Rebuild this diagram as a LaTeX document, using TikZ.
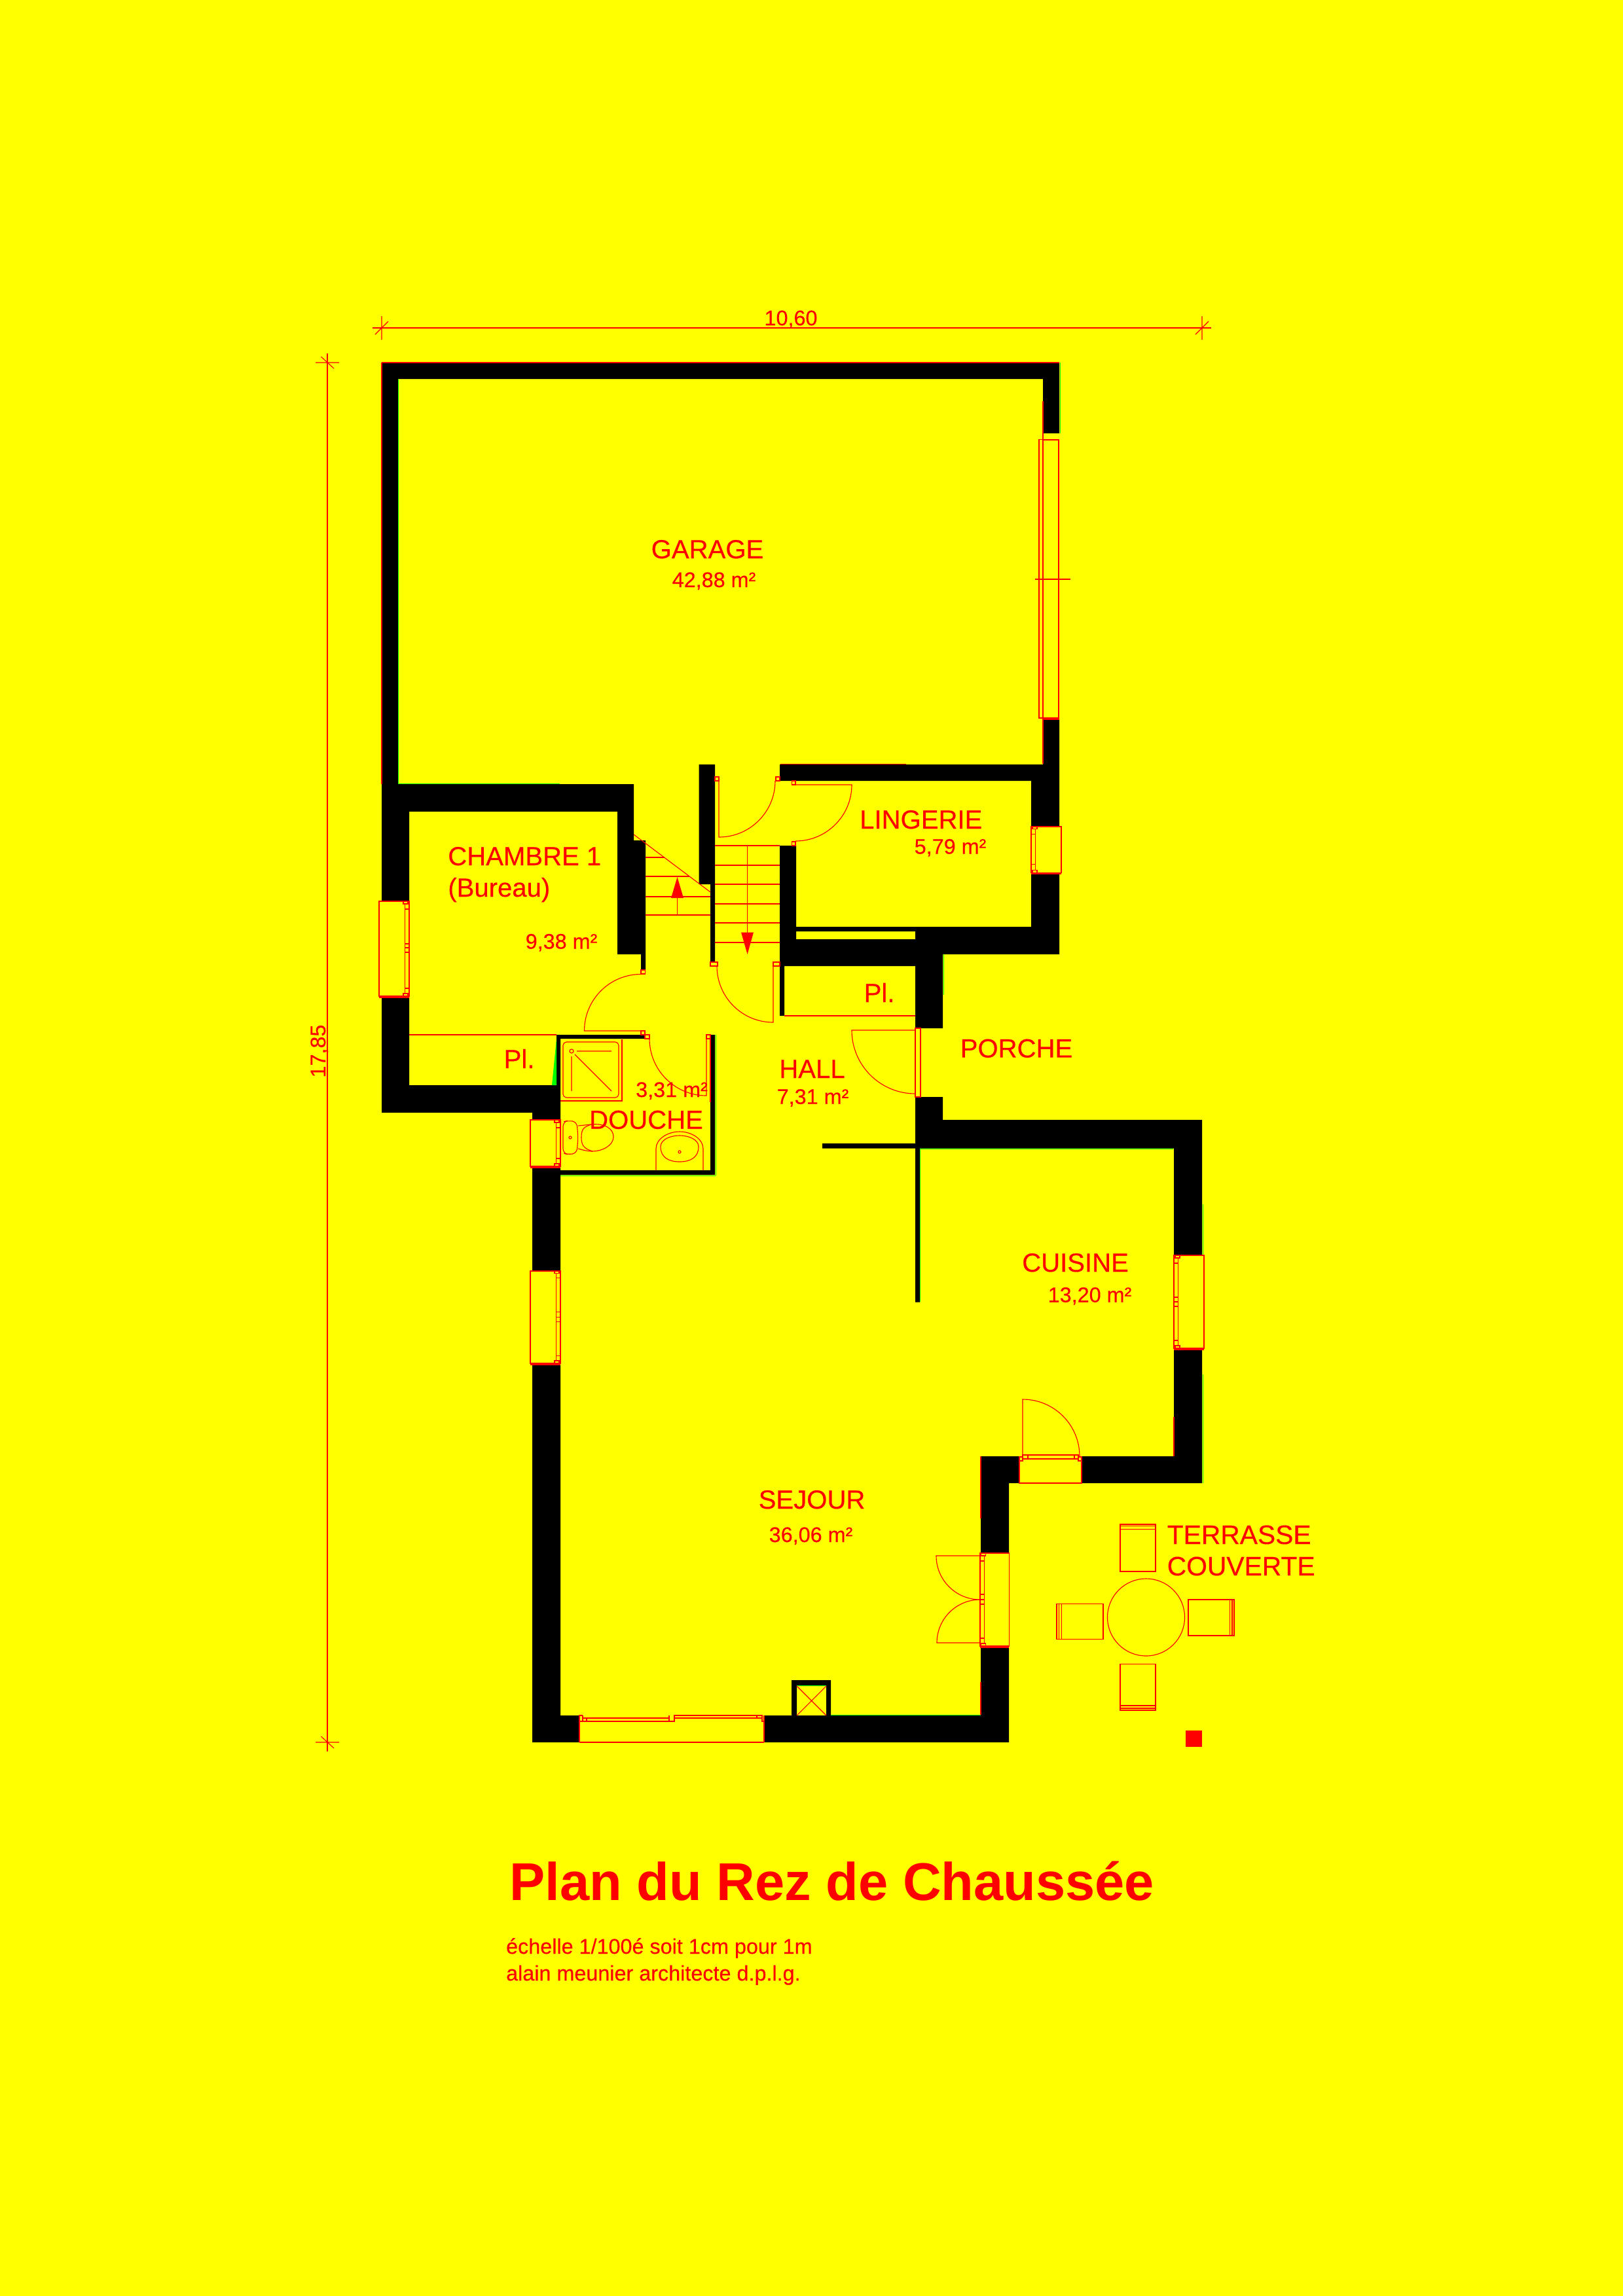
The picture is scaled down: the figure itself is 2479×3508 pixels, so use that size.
\documentclass[tikz,border=0pt]{standalone}
\usepackage{fontspec}
\setmainfont{Liberation Sans}[UprightFeatures={FakeBold=0.3}]
\usetikzlibrary{calc}
\definecolor{planyellow}{RGB}{255, 255, 0}
\definecolor{planred}{RGB}{255, 0, 0}
\definecolor{plangreen}{RGB}{0, 255, 0}
\tikzset{
  fond/.style={fill=planyellow},
  mur/.style={fill=black},
  trait/.style={draw=planred, line width=0.32pt},
  traitfort/.style={draw=planred, line width=0.6pt},
  piece/.style={anchor=base west, inner sep=0pt, text=planred, font=\fontsize{11.4}{13}\selectfont},
  aire/.style={anchor=base west, inner sep=0pt, text=planred, font=\fontsize{9.2}{11}\selectfont},
}
% door: hinge, leaf angle, radius, end angle
\newcommand{\porte}[4]{\draw[trait] (#1) -- ++(#2:#3) arc[start angle=#2, end angle=#4, radius=#3];}
% window: wall face, top, height, direction, rail crossings
\newcommand{\fenetre}[5]{
  \begin{scope}[shift={(#1,#2)}, xscale=#4]
    \draw[trait] (0,0) rectangle (46,#3);
    \fill[planred] (0,-1) rectangle (46,1);
    \fill[planred] (0,#3) rectangle (46,#3+3);
    \draw[trait] (-0.5,4) rectangle (6.3,#3-4);
    \draw[trait] (2,0) rectangle (9,4);
    \draw[trait] (2,#3-4) rectangle (9,#3);
    \foreach \m in {#5} \draw[trait] (-0.5,\m) -- (6.3,\m);
  \end{scope}
}
\begin{document}
\begin{tikzpicture}[x=0.01cm, y=-0.01cm]
  \fill[fond] (0,0) rectangle (2479,3508);
  \useasboundingbox (0,0) rectangle (2479,3508);

  % walls
  \fill[mur] (583,554) -- (1618,554) -- (1618,662) -- (1593,662) -- (1593,579) -- (608,579) -- (608,1198) -- (968,1198) -- (968,1284) -- (986,1284) -- (986,1482) -- (979,1482) -- (979,1458) -- (943,1458) -- (943,1240) -- (625,1240) -- (625,1377) -- (583,1377) -- cycle;
  \fill[mur] (583,1522) -- (625,1522) -- (625,1658) -- (850,1658) -- (850,1581) -- (985,1581) -- (985,1587) -- (856,1587) -- (856,1711) -- (813,1711) -- (813,1700) -- (583,1700) -- cycle;
  \fill[mur] (813,1785) -- (856,1785) -- (856,1788) -- (1085,1788) -- (1085,1581) -- (1092,1581) -- (1092,1795) -- (856,1795) -- (856,1941) -- (813,1941) -- cycle;
  \fill[mur] (813,2086) -- (856,2086) -- (856,2621) -- (885,2621) -- (885,2662) -- (813,2662) -- cycle;
  \fill[mur] (1167,2662) -- (1167,2621) -- (1498,2621) -- (1498,2518) -- (1541,2518) -- (1541,2662) -- cycle;
  \fill[mur, even odd rule] (1209,2567) rectangle (1269,2622) (1217,2576) rectangle (1262,2621);
  \fill[mur] (1498,2373) -- (1498,2225) -- (1557,2225) -- (1557,2266) -- (1541,2266) -- (1541,2373) -- cycle;
  \fill[mur] (1652,2225) -- (1793,2225) -- (1793,2060) -- (1836,2060) -- (1836,2266) -- (1652,2266) -- cycle;
  \fill[mur] (1398,1676) -- (1440,1676) -- (1440,1711) -- (1836,1711) -- (1836,1918) -- (1793,1918) -- (1793,1754.5) -- (1405,1754.5) -- (1405,1989.5) -- (1398,1989.5) -- (1398,1754.5) -- (1256,1754.5) -- (1256,1747) -- (1398,1747) -- cycle;
  \fill[mur] (1067.5,1168) -- (1092,1168) -- (1092,1470) -- (1085,1470) -- (1085,1351) -- (1067.5,1351) -- cycle;
  \fill[mur] (1593,1099) -- (1618,1099) -- (1618,1262) -- (1575,1262) -- (1575,1193) -- (1191,1193) -- (1191,1168) -- (1593,1168) -- cycle;
  \fill[mur, even odd rule] (1575,1333) -- (1618,1333) -- (1618,1458) -- (1440,1458) -- (1440,1571) -- (1398,1571) -- (1398,1476) -- (1198,1476) -- (1198,1552) -- (1191,1552) -- (1191,1292) -- (1216,1292) -- (1216,1416) -- (1575,1416) -- cycle (1216,1423) rectangle (1398,1435);

  % wall edges
  \foreach \xa/\ya/\xb/\yb in {608.5/579/608.5/1198, 608/1197.5/855/1197.5, 1619/554/1619/662, 1441/1458/1441/1520, 1405.5/1755/1405.5/1989, 1405/1755.5/1792/1755.5, 1837/1840/1837/1917, 1093/1581/1093/1796, 856/1796/1093/1796, 1837/2100/1837/2266, 1269/2620.5/1498/2620.5, 1217/2575.5/1262/2575.5}
    \draw[draw=plangreen, line width=0.25pt] (\xa,\ya) -- (\xb,\yb);
  \fill[plangreen] (850,1587) -- (850,1658) -- (843,1658) -- cycle;
  \foreach \xa/\ya/\xb/\yb in {583/554/1618/554, 583/554/583/1198, 1593/613/1593/1167, 1192/1167.5/1384/1167.5, 1085/1588/1085/1684, 1498/2225/1498/2320, 1498/2570/1498/2620, 1793/2165/1793/2225}
    \draw[trait] (\xa,\ya) -- (\xb,\yb);

  % dimensions
  \coordinate (coteg) at (583,501);
  \coordinate (cotea) at (1836,501);
  \coordinate (coteh) at (500,554);
  \coordinate (coteb) at (500,2662);
  \draw[trait] (coteg) ++(-14,0) -- (cotea) -- ++(14,0);
  \draw[trait] (coteh) ++(0,-14) -- (coteb) -- ++(0,14);
  \foreach \c in {coteg,cotea}
    \draw[trait] (\c) ++(0,-18) -- ++(0,36) (\c) ++(-10,10) -- ++(20,-20);
  \foreach \c in {coteh,coteb}
    \draw[trait] (\c) ++(-18,0) -- ++(36,0) (\c) ++(-9.5,-9) -- ++(19.5,18);
  \node[aire, anchor=base] (largeur) at (1208,497) {10,60};
  \node[aire, anchor=base, rotate=90] (longueur) at (497,1606) {17,85};

  % windows
  \fenetre{625}{1377}{145}{-1}{12,65,71,78,133}
  \fenetre{856}{1711}{71}{-1}{12,59}
  \fenetre{856}{1941.7}{141.3}{-1}{11,63,71,78,130}
  \fenetre{1793}{1918}{142}{1}{12,64,71,78,130}
  \fenetre{1575}{1262.7}{70.5}{1}{12,58}
  \fenetre{1497}{2373}{142}{0.96}{63,71,78,12,130}
  \draw[trait] (1587,671.6) rectangle (1593,1097);
  \draw[traitfort] (1593,671.6) -- (1617,671.6) -- (1617,1097);
  \fill[planred] (1593,1096) rectangle (1618,1100);
  \draw[trait] (1581,885) -- (1635,885);

  % bay window and terrace door
  \draw[trait] (885,2662) -- (885,2621) -- (890,2621) (885,2630) -- (1030,2630) -- (1030,2621) -- (1164,2621) -- (1164,2630) -- (1167,2630) (1167,2621) -- (1167,2662) (885,2662) -- (1167,2662);
  \draw[trait] (890,2621) -- (890,2630) (890,2625) -- (1022,2625) -- (1022,2630) (1022,2621) -- (1022,2625) (1030,2625) -- (1164,2625) (896,2625) -- (896,2630) (1156,2621) -- (1156,2625);
  \draw[trait] (1557,2232) -- (1557,2266) -- (1652,2266) -- (1652,2232);
  \draw[trait] (1562,2223) rectangle (1647,2229) (1570,2223) -- (1570,2229) (1641,2223) -- (1641,2229);
  \draw[trait] (1557,2226) rectangle (1562,2232) (1647,2226) rectangle (1652,2232);
  \draw[trait] (1398,1571) rectangle (1406,1676);

  % doors
  \porte{979,1575}{180}{86.5}{270}
  \porte{1079,1587}{90}{87}{180}
  \porte{1181,1476}{90}{86}{180}
  \porte{1098,1193}{90}{86}{0}
  \porte{1215,1199}{0}{86}{90}
  \porte{1398,1574}{180}{97}{90}
  \porte{1562,2225}{270}{87}{360}
  \porte{1497,2377}{180}{67}{90}
  \porte{1497,2510}{180}{66}{270}
  \foreach \jx/\jy/\jw in {979/1482/6.5, 979/1575/6, 985/1581/7, 1079/1581/6, 1085/1470/11, 1181/1470/10, 1092/1187/6, 1185/1187/6, 1209.5/1193/5.5, 1209.5/1286/5.5}
    \draw[trait] (\jx,\jy) rectangle ++(\jw,6);

  % cupboards
  \draw[trait] (625,1581) -- (850,1581);
  \draw[trait] (1198,1552) -- (1398,1552);

  % stairs
  \foreach \y in {1292,1322,1351,1381,1410,1440}
    \draw[trait] (1092,\y) -- (1191,\y);
  \draw[trait] (1141.6,1292) -- (1141.6,1424.5);
  \fill[planred] (1132,1424.5) -- (1151,1424.5) -- (1141.6,1458) -- cycle;
  \draw[trait] (968,1275) -- (1085,1363);
  \draw[trait] (986,1310) -- (1014.5,1310) (986,1339) -- (1053,1339) (986,1370) -- (1085,1370) (986,1398) -- (1085,1398);
  \draw[trait] (1034.5,1372) -- (1034.5,1398);
  \fill[planred] (1025,1372) -- (1044,1372) -- (1034.5,1340) -- cycle;

  % shower
  \draw[trait] (950,1588) -- (950,1682) -- (856,1682);
  \draw[trait, rounded corners=1.5pt] (860,1592) rectangle (945,1677);
  \draw[trait] (873,1606) circle[radius=3];
  \draw[trait] (881,1606) -- (934,1606) (873,1614) -- (873,1667) (878,1611) -- (934,1667);

  % toilet
  \draw[trait, rounded corners=2pt] (860,1714) -- (868,1712) -- (881,1714) -- (883,1738) -- (881,1762) -- (868,1764) -- (860,1762) -- cycle;
  \draw[trait] (871,1738) circle[radius=2];
  \draw[trait] (883,1720) -- (903,1718) .. controls (925,1716) and (937,1725) .. (937,1737) .. controls (937,1750) and (920,1759) .. (905,1759) .. controls (897,1759) and (890,1757) .. (883,1755);
  \draw[trait] (903,1718) .. controls (892,1722) and (888,1724) .. (888,1738) .. controls (888,1750) and (892,1755) .. (905,1759);

  % basin
  \draw[trait] (1002,1788) -- (1002,1755) .. controls (1002,1740) and (1020,1729) .. (1038,1729) .. controls (1056,1729) and (1074,1740) .. (1074,1755) -- (1074,1788);
  \draw[trait] (1009,1752) .. controls (1009,1742) and (1022,1735) .. (1038,1735) .. controls (1054,1735) and (1067,1742) .. (1067,1752) .. controls (1067,1768) and (1055,1775) .. (1038,1775) .. controls (1021,1775) and (1009,1768) .. (1009,1752) -- cycle;
  \draw[trait] (1038,1760) circle[radius=2];

  % duct
  \draw[trait] (1217,2576) -- (1262,2621) (1262,2576) -- (1217,2621);

  % terrace table
  \draw[trait] (1750.5,2471) circle[radius=59];
  \draw[trait] (1711,2329) rectangle (1765,2401) (1711,2331.5) -- (1765,2331.5) (1711,2336.5) -- (1765,2336.5);
  \draw[trait] (1711,2542.4) rectangle (1765,2613) (1711,2606) -- (1765,2606) (1711,2610) -- (1765,2610);
  \draw[trait] (1614,2450.5) rectangle (1685,2504.5) (1617.5,2450.5) -- (1617.5,2504.5) (1621.5,2450.5) -- (1621.5,2504.5);
  \draw[trait] (1815,2444) rectangle (1885,2499) (1878.7,2444) -- (1878.7,2499) (1882,2444) -- (1882,2499);
  \fill[planred] (1811,2644) rectangle (1836,2669);

  % labels
  \node[piece] (garage) at (994,853) {GARAGE};
  \node[aire] (garagem) at (1026,897) {42,88 m²};
  \node[piece] (chambre) at (683.6,1322) {CHAMBRE 1};
  \node[piece] (bureau) at (683.6,1370) {(Bureau)};
  \node[aire] (chambrem) at (802,1449.5) {9,38 m²};
  \node[piece] (lingerie) at (1312.5,1266) {LINGERIE};
  \node[aire] (lingeriem) at (1396,1304.5) {5,79 m²};
  \node[piece] (placarda) at (769,1632) {Pl.};
  \node[piece] (placardb) at (1319,1531) {Pl.};
  \node[aire] (douchem) at (970.5,1676) {3,31 m²};
  \node[piece] (douche) at (899.4,1724.7) {DOUCHE};
  \node[piece] (hall) at (1189.6,1647) {HALL};
  \node[aire] (hallm) at (1186,1686.7) {7,31 m²};
  \node[piece] (porche) at (1466,1615.6) {PORCHE};
  \node[piece] (cuisine) at (1560.5,1943) {CUISINE};
  \node[aire] (cuisinem) at (1600,1989.5) {13,20 m²};
  \node[piece] (sejour) at (1158,2305) {SEJOUR};
  \node[aire] (sejourm) at (1174,2356) {36,06 m²};
  \node[piece, font=\fontsize{11.6}{13}\selectfont] (terrasse) at (1782,2359) {TERRASSE};
  \node[piece, font=\fontsize{11.6}{13}\selectfont] (couverte) at (1782,2407) {COUVERTE};

  \node[piece, font=\fontsize{23.1}{26}\bfseries] (titre) at (778,2903.7) {Plan du Rez de Chaussée};
  \node[aire] (echelle) at (772.4,2985) {échelle 1/100é soit 1cm pour 1m};
  \node[aire] (auteur) at (772.4,3026) {alain meunier architecte d.p.l.g.};
\end{tikzpicture}
\end{document}
